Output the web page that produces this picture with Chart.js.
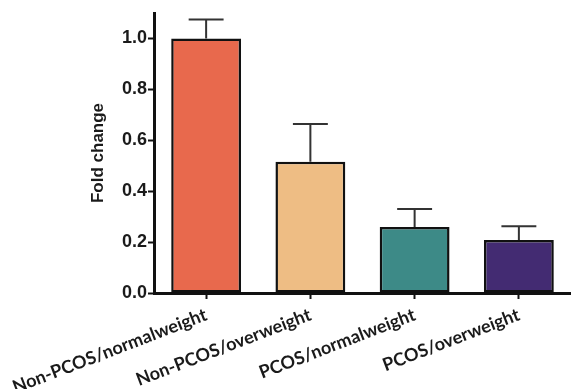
<!DOCTYPE html>
<html>
<head>
<meta charset="utf-8">
<script src="https://cdn.jsdelivr.net/npm/chart.js@4.4.0/dist/chart.umd.min.js"></script>
<style>
    html, body { margin: 0; padding: 0; background: #ffffff; }
    #wrap { position: relative; width: 571px; height: 389px; }
</style>
</head>
<body>
<div id="wrap"><canvas id="chart"></canvas></div>
<script>
// 데이터
const categories = ['Non-PCOS/normalweight', 'Non-PCOS/overweight', 'PCOS/normalweight', 'PCOS/overweight'];
const foldChange = [1.0, 0.516, 0.259, 0.208];
const errorUpper = [0.074, 0.148, 0.071, 0.054];
const barColors = ['#E8694D', '#EEBD84', '#3D8A87', '#432B72'];
const yTicks = [0, 0.2, 0.4, 0.6, 0.8, 1.0];

/**
 * 에러바 플러그인 (위쪽만)
 */
const errorBarPlugin = {
    id: 'errorBars',
    afterDatasetsDraw(chart) {
        const ctx = chart.ctx;
        const meta = chart.getDatasetMeta(0);
        const yScale = chart.scales.y;
        ctx.save();
        ctx.strokeStyle = '#333333';
        ctx.lineWidth = 2;
        meta.data.forEach((bar, i) => {
            const top = yScale.getPixelForValue(foldChange[i] + errorUpper[i]);
            const half = bar.width * 0.25;
            ctx.beginPath();
            ctx.moveTo(bar.x, bar.y);
            ctx.lineTo(bar.x, top);
            ctx.moveTo(bar.x - half, top);
            ctx.lineTo(bar.x + half, top);
            ctx.stroke();
        });
        ctx.restore();
    },
};

new Chart(document.getElementById('chart'), {
    type: 'bar',
    data: {
        labels: categories,
        datasets: [{
            data: foldChange,
            backgroundColor: barColors,
            borderColor: '#111111',
            borderWidth: 2.5,
            borderSkipped: false,
            barPercentage: 0.67,
            categoryPercentage: 1.0,
        }],
    },
    options: {
        responsive: true,
        maintainAspectRatio: false,
        animation: false,
        layout: { padding: { top: 13, right: 0, left: 0, bottom: 0 } },
        plugins: {
            legend: { display: false },
            tooltip: { enabled: false },
        },
        scales: {
            x: {
                afterFit(scale) {
                    scale.height = 96;
                    scale.paddingLeft = 0;
                    scale.paddingRight = 0;
                },
                grid: {
                    offset: false,
                    drawOnChartArea: false,
                    drawTicks: true,
                    tickLength: 6,
                    tickColor: '#111111',
                    tickWidth: 2,
                },
                border: { color: '#111111', width: 3 },
                ticks: {
                    autoSkip: false,
                    maxRotation: 21,
                    minRotation: 21,
                    padding: 5,
                    color: '#1a1a1a',
                    font: { family: 'Lato', size: 18, weight: 'bold' },
                },
            },
            y: {
                min: 0,
                max: 1.1,
                afterFit(scale) {
                    scale.width = 154;
                    scale.paddingTop = 0;
                    scale.paddingBottom = 0;
                },
                afterBuildTicks(scale) {
                    scale.ticks = yTicks.map(v => ({ value: v }));
                },
                grid: {
                    drawOnChartArea: false,
                    drawTicks: true,
                    tickLength: 6,
                    tickColor: '#111111',
                    tickWidth: 2,
                },
                border: { color: '#111111', width: 3 },
                ticks: {
                    padding: 1,
                    color: '#1a1a1a',
                    font: { family: 'Liberation Sans', size: 18, weight: 'bold' },
                    callback: v => v.toFixed(1),
                },
                title: {
                    display: true,
                    text: 'Fold change',
                    color: '#1a1a1a',
                    font: { family: 'Liberation Sans', size: 17, weight: 'bold' },
                    padding: { top: 88, bottom: 0 },
                },
            },
        },
    },
    plugins: [errorBarPlugin],
});
</script>
</body>
</html>
